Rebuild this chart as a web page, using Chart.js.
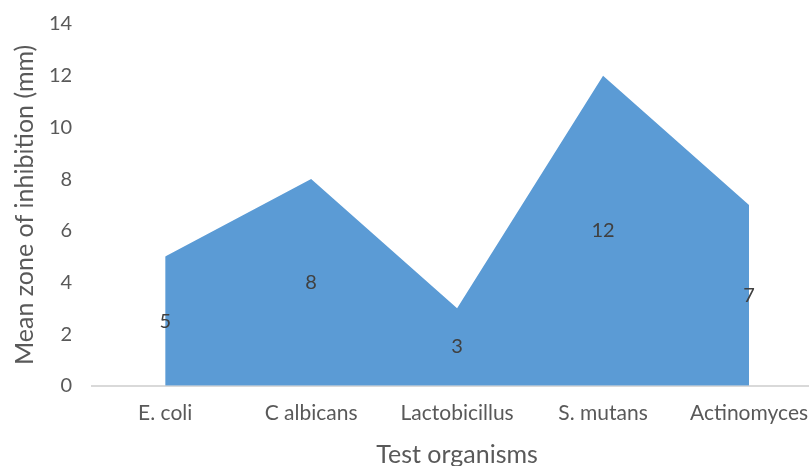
<!DOCTYPE html>
<html lang="en">
  <head>
    <meta charset="UTF-8" />
    <title>Mean zone of inhibition</title>
    <script src="https://cdn.jsdelivr.net/npm/chart.js"></script>
    <style>
      html, body { margin: 0; padding: 0; overflow: hidden; background: #fff; }
      .chart-container { width: 832px; height: 470px; }
    </style>
  </head>
  <body>
    <div class="chart-container">
      <canvas id="areaChart"></canvas>
    </div>

    <script>
      const organisms = ["E. coli", "C albicans", "Lactobicillus", "S. mutans", "Actinomyces"];
      const zoneValues = [5, 8, 3, 12, 7];
      const yTicks = [0, 2, 4, 6, 8, 10, 12, 14];

      // labels drawn in the middle of the area, like Excel "center" labels
      const midLabels = {
        id: "midLabels",
        afterDatasetsDraw(chart) {
          const { ctx, scales } = chart;
          ctx.save();
          ctx.font = "20px Lato";
          ctx.fillStyle = "#404040";
          ctx.textAlign = "center";
          ctx.textBaseline = "middle";
          zoneValues.forEach((v, i) => {
            ctx.fillText(String(v), scales.x.getPixelForValue(i), scales.y.getPixelForValue(v / 2));
          });
          ctx.restore();
        },
      };

      new Chart(document.getElementById("areaChart"), {
        type: "line",
        data: {
          labels: organisms,
          datasets: [
            {
              data: zoneValues,
              fill: "origin",
              backgroundColor: "#5B9BD5",
              borderWidth: 0,
              pointRadius: 0,
              tension: 0,
            },
          ],
        },
        options: {
          responsive: true,
          maintainAspectRatio: false,
          animation: false,
          layout: { padding: { top: 1, right: 10, left: 12, bottom: 0 } },
          plugins: { legend: { display: false }, tooltip: { enabled: false } },
          scales: {
            x: {
              offset: true,
              grid: { display: false },
              border: { color: "#D9D9D9", width: 2 },
              ticks: { color: "#595959", font: { family: "Lato", size: 21 }, maxRotation: 0, autoSkip: false, padding: 7 },
              title: { display: true, text: "Test organisms", color: "#595959", font: { family: "Lato", size: 25 }, padding: { top: 7, bottom: 0 } },
            },
            y: {
              min: 0,
              max: 14,
              afterBuildTicks: (axis) => { axis.ticks = yTicks.map((v) => ({ value: v })); },
              grid: { display: false },
              border: { display: false },
              ticks: { color: "#595959", font: { family: "Lato", size: 20 }, padding: 12 },
              title: { display: true, text: "Mean zone of inhibition (mm)", color: "#595959", font: { family: "Lato", size: 25, lineHeight: 1 }, padding: { top: 0, bottom: 0 } },
            },
          },
        },
        plugins: [midLabels],
      });
    </script>
  </body>
</html>
